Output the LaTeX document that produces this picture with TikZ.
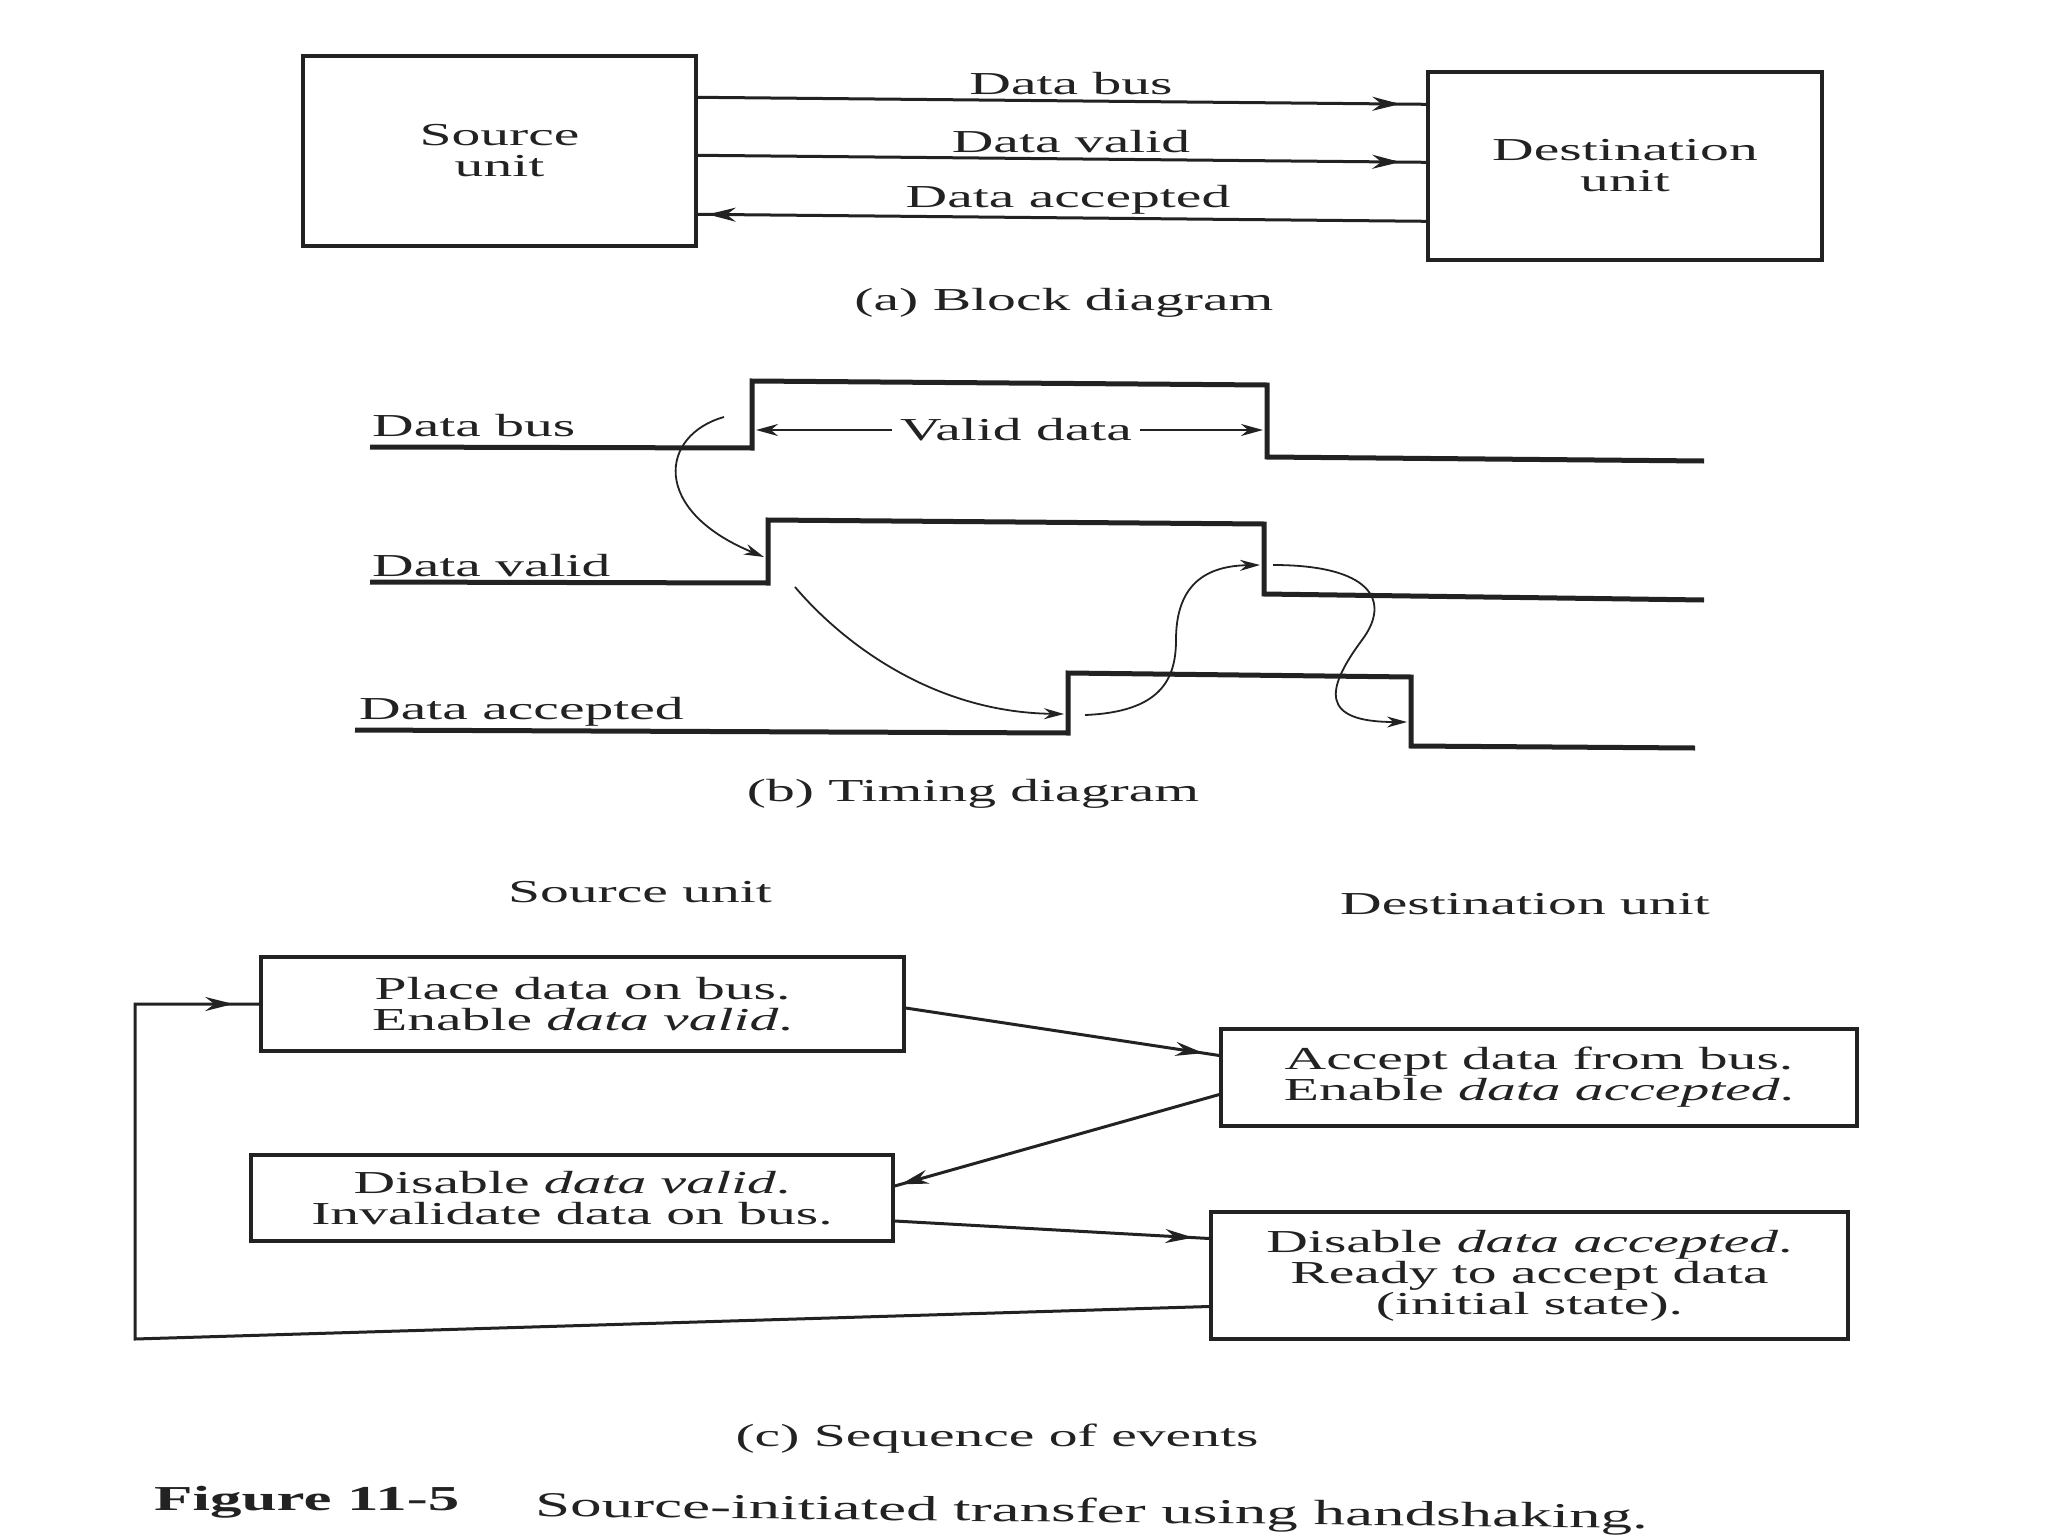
\documentclass[tikz,border=0pt]{standalone}
\usepackage{fontspec}
\setmainfont[FakeStretch=1.8]{Liberation Serif}
\usetikzlibrary{arrows.meta,calc,decorations.markings}
\definecolor{ink}{HTML}{222222}
\begin{document}
\begin{tikzpicture}[x=1pt,y=-1pt,
  every node/.style={font=\fontsize{32}{31}\selectfont, inner sep=0pt, text=ink},
  box/.style={draw=ink, line width=3.4pt, align=center},
  wave/.style={draw=ink, line width=5pt, line join=miter},
  conn/.style={draw=ink, line width=3pt, postaction={decorate},
    decoration={markings, mark=at position -#1 with {\arrow[ink]{Stealth[length=28pt,width=14pt]}}}},
  conn/.default=20pt,
  vdarr/.style={draw=ink, line width=2.4pt, -{Stealth[length=22pt,width=12pt]}},
  curv/.style={draw=ink, line width=1.8pt, -{Stealth[length=20pt,width=11pt]}},
]
\fill[white] (0,0) rectangle (2048,1536);
\useasboundingbox (0,0) rectangle (2048,1536);

% ---------- (a) Block diagram ----------
\node[box, minimum width=393, minimum height=190] (src) at (499.5,151) {Source\\unit};
\node[box, minimum width=394, minimum height=188] (dst) at (1625,166) {Destination\\unit};
\draw[conn=26pt] ($(src.north east)+(0,43)$) -- ($(dst.north west)+(0,34)$);
\draw[conn=26pt] ($(src.north east)+(0,101)$) -- ($(dst.north west)+(0,92)$);
\draw[conn=10pt] ($(dst.north west)+(0,151)$) -- ($(src.north east)+(0,160)$);
\node (lbus) at (1071,84) {Data bus};
\node (lvalid) at (1071,142) {Data valid};
\node (lacc) at (1068,200) {Data accepted};
\node (capa) at (1064,303) {(a) Block diagram};

% ---------- (b) Timing diagram ----------
\draw[wave] (370,447) -- (752,448) -- (752,381) -- (1267,385) -- (1267,457) -- (1704,461);
\draw[wave] (370,582) -- (768,583) -- (768,520) -- (1264,524) -- (1264,594) -- (1704,600);
\draw[wave] (355,730) -- (1068,733) -- (1068,673) -- (1411,677) -- (1411,746) -- (1695,748);
\node[anchor=west] (tbus) at (372,426) {Data bus};
\node[anchor=west] (tvalid) at (372,566) {Data valid};
\node[anchor=west] (tacc) at (359,712) {Data accepted};

\node (vd) at (1016,430) {Valid data};
\coordinate (busrise) at (756,430);
\coordinate (busfall) at (1263,430);
\draw[vdarr] ([xshift=-8pt]vd.west) -- (busrise);
\draw[vdarr] ([xshift=8pt]vd.east) -- (busfall);

\coordinate (c1s) at (724,417);
\coordinate (c1e) at (764,557);
\coordinate (c2s) at (795,587);
\coordinate (c2e) at (1064,714);
\coordinate (c3s) at (1085,715);
\coordinate (c3e) at (1260,565);
\coordinate (c4s) at (1273,565);
\coordinate (c4e) at (1407,722);
\draw[curv] (c1s) .. controls (660,435) and (650,510) .. (c1e);
\draw[curv] (c2s) .. controls (840,640) and (930,712) .. (c2e);
\draw[curv] (c3s) .. controls (1160,712) and (1176,680) .. (1176,640)
                  .. controls (1176,590) and (1200,566) .. (c3e);
\draw[curv] (c4s) .. controls (1370,565) and (1392,600) .. (1362,640)
                  .. controls (1325,690) and (1320,722) .. (c4e);
\node (capb) at (973,794) {(b) Timing diagram};

% ---------- (c) Sequence of events ----------
\node (su) at (640,892) {Source unit};
\node (du) at (1525,904) {Destination unit};
\node[box, minimum width=643, minimum height=94] (b1) at (582.5,1004)
  {Place data on bus.\\Enable \textit{data valid}.};
\node[box, minimum width=636, minimum height=97] (b2) at (1539,1077.5)
  {Accept data from bus.\\Enable \textit{data accepted}.};
\node[box, minimum width=642, minimum height=86] (b3) at (572,1198)
  {Disable \textit{data valid}.\\Invalidate data on bus.};
\node[box, minimum width=637, minimum height=127] (b4) at (1529.5,1275.5)
  {Disable \textit{data accepted}.\\Ready to accept data\\(initial state).};
\draw[conn=16pt] ($(b1.east)+(0,4)$) -- ($(b2.west)+(0,-22)$);
\draw[conn=6pt] ($(b2.west)+(0,17)$) -- ($(b3.east)+(0,-12)$);
\draw[conn=16pt] ($(b3.east)+(0,23)$) -- ($(b4.west)+(0,-37)$);
\coordinate (lb) at (135,1339);
\coordinate (lt) at (135,1004);
\draw[conn=26pt] ($(b4.west)+(0,31)$) -- (lb) -- (lt) -- (b1.west);

\node (capc) at (997,1439) {(c) Sequence of events};
\node[anchor=west, font=\fontsize{35}{36}\selectfont\bfseries] (fig) at (154,1502) {Figure 11-5};
\node[anchor=west, rotate=-0.6, font=\fontsize{35}{36}\selectfont] (figt) at (535,1508)
  {Source-initiated transfer using handshaking.};
\end{tikzpicture}
\end{document}
